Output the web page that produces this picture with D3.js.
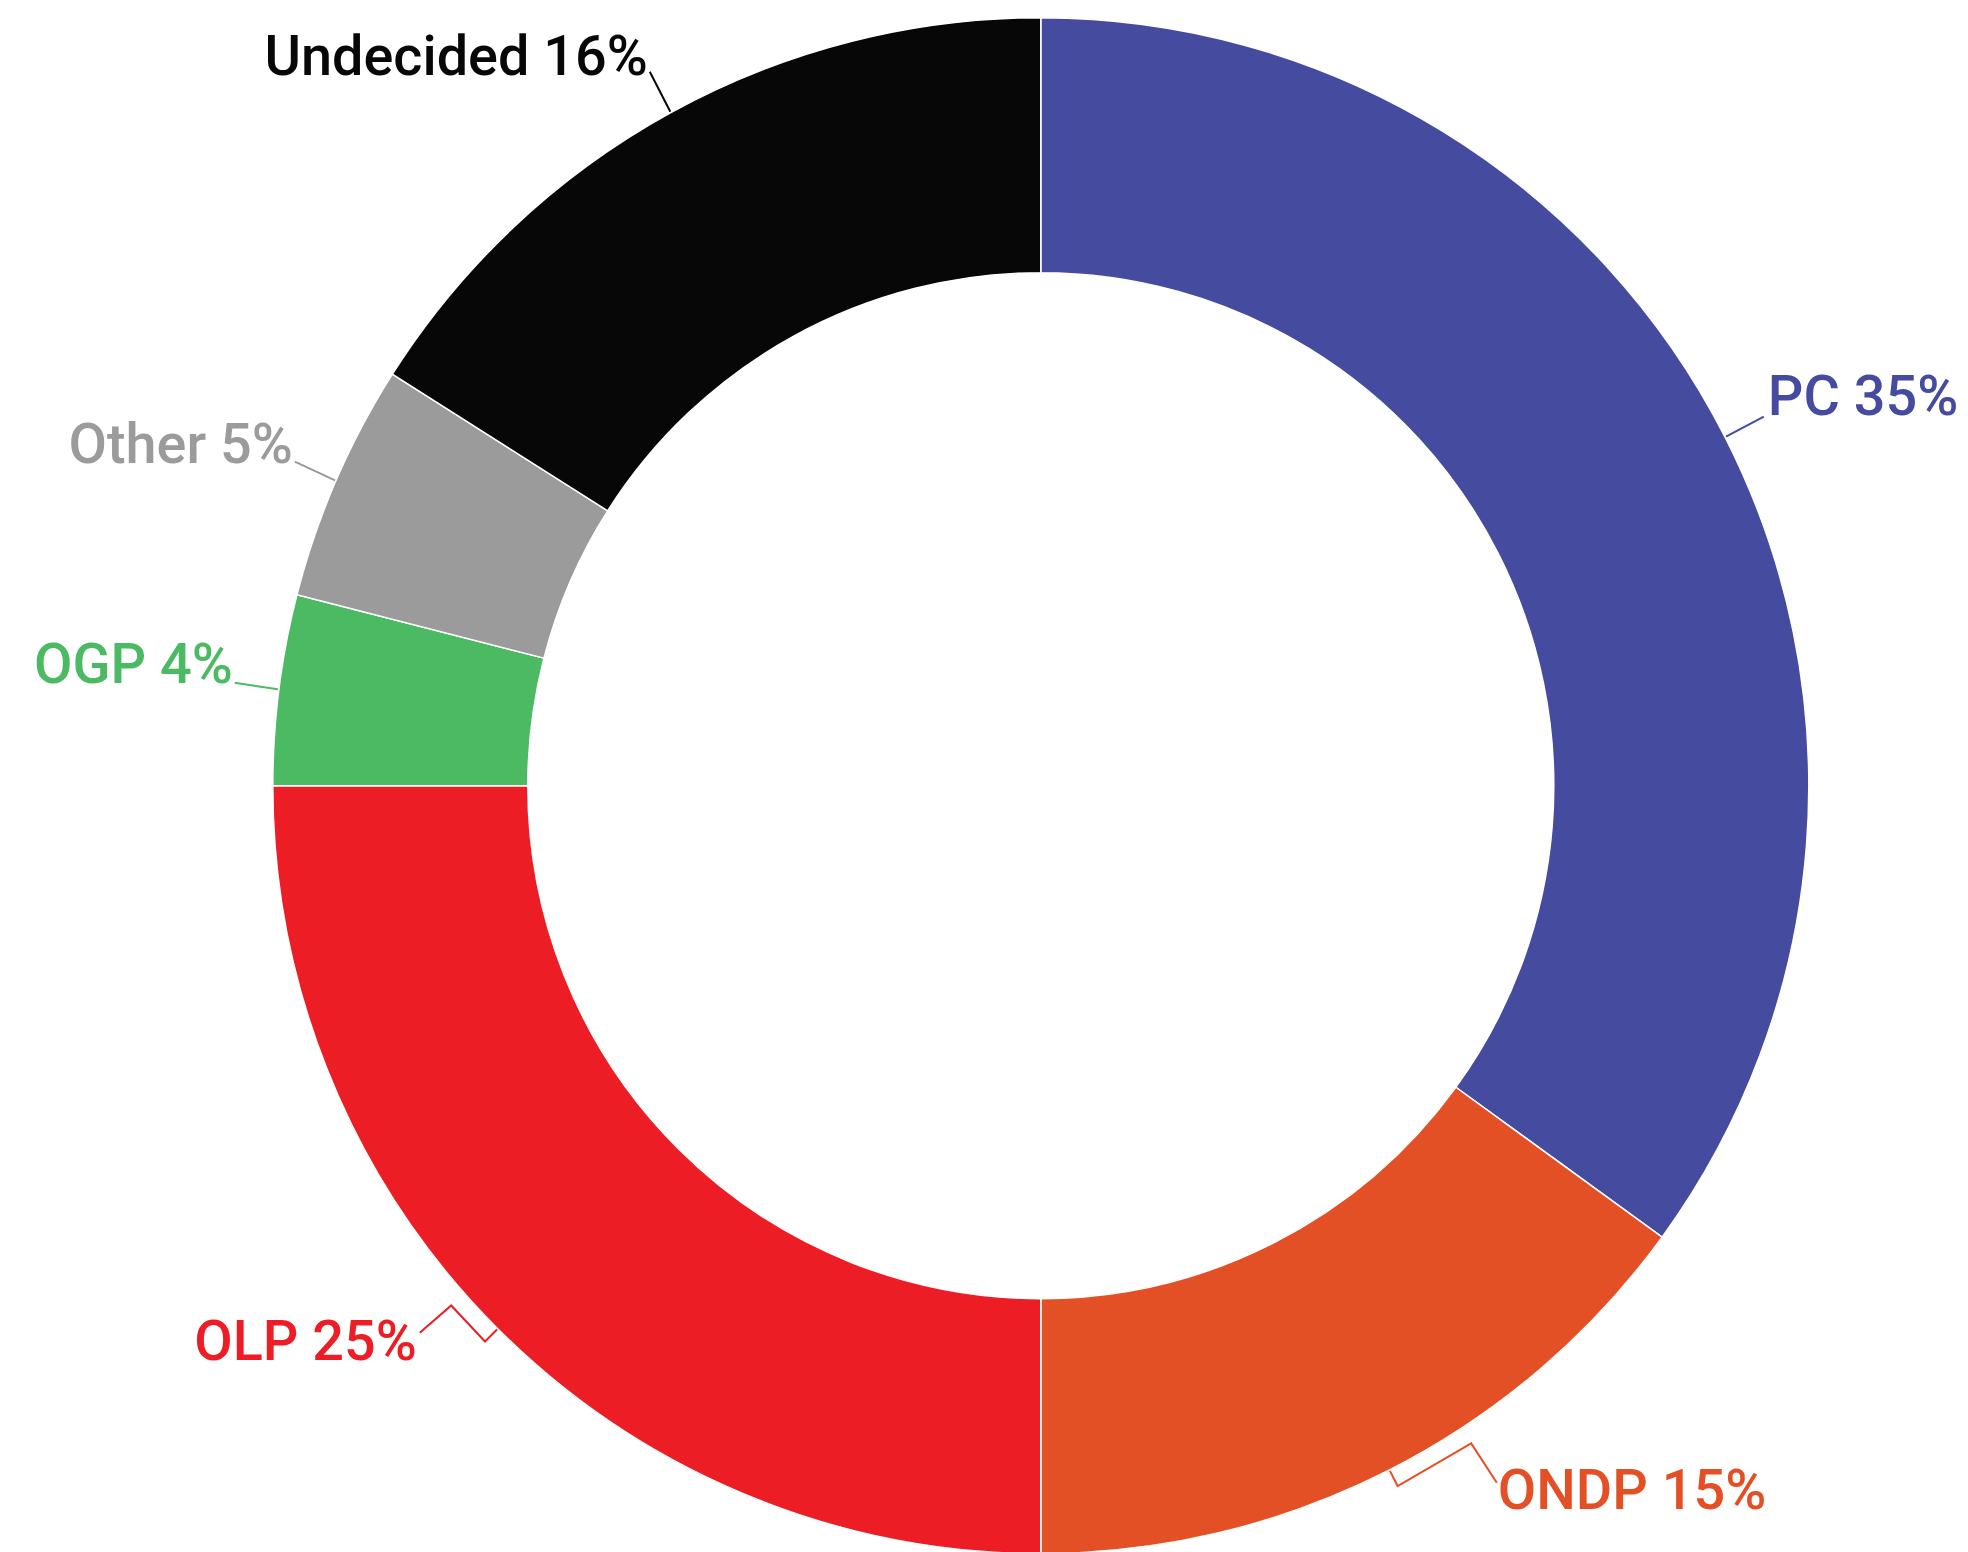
<!DOCTYPE html>
<html>
<head>
<meta charset="utf-8">
<script src="https://cdn.jsdelivr.net/npm/d3@7"></script>
<style>
  body { margin: 0; background: #fff; }
  text { font-family: Roboto, "Noto Sans", sans-serif; font-weight: 500; }
</style>
</head>
<body>
<div id="donut"></div>
<script>
// data
const parties = ["PC", "ONDP", "OLP", "OGP", "Other", "Undecided"];
const shares = [35, 15, 25, 4, 5, 16];
const colors = ["#454b9f", "#e45025", "#ed1d25", "#4cb963", "#9b9b9b", "#070707"];

const width = 1968, height = 1552;
const cx = 1040.8, cy = 785.7;
const outerR = 768, innerR = 513;

// label placement, relative to the centre (text anchor point)
const labelPos = {
  PC:        { x: 727,  y: -371, anchor: "start" },
  ONDP:      { x: 457,  y: 723,  anchor: "start" },
  OLP:       { x: -624, y: 574,  anchor: "end" },
  OGP:       { x: -808, y: -103, anchor: "end" },
  Other:     { x: -748, y: -323, anchor: "end" },
  Undecided: { x: -393, y: -711, anchor: "end" }
};
// leader line: bends given as [angle offset in deg, radius], then end point relative to label anchor
const leaders = {
  PC:        { bends: [], end: [-4, 2] },
  ONDP:      { bends: [[0, 786], [-6.2, 786]], end: [-1, -26] },
  OLP:       { bends: [[0, 786], [3.6, 786]], end: [3, -27] },
  OGP:       { bends: [], end: [2, 0] },
  Other:     { bends: [], end: [2, -1] },
  Undecided: { bends: [], end: [2, -3] }
};

const data = parties.map((p, i) => ({ party: p, value: shares[i], color: colors[i] }));

const svg = d3.select("#donut").append("svg")
  .attr("width", width)
  .attr("height", height);

const g = svg.append("g").attr("transform", `translate(${cx},${cy})`);

const pie = d3.pie().sort(null).value(d => d.value);
const arc = d3.arc().innerRadius(innerR).outerRadius(outerR);
const arcs = pie(data);

g.selectAll("path.slice")
  .data(arcs)
  .join("path")
  .attr("class", "slice")
  .attr("d", arc)
  .attr("fill", d => d.data.color)
  .attr("stroke", "#fff")
  .attr("stroke-width", 1.5);

const polar = (a, r) => [r * Math.sin(a), -r * Math.cos(a)];

g.selectAll("polyline.leader")
  .data(arcs)
  .join("polyline")
  .attr("class", "leader")
  .attr("fill", "none")
  .attr("stroke", d => d.data.color)
  .attr("stroke-width", 2)
  .attr("points", d => {
    const mid = (d.startAngle + d.endAngle) / 2;
    const L = leaders[d.data.party], P = labelPos[d.data.party];
    const pts = [polar(mid, outerR + 1)];
    L.bends.forEach(b => pts.push(polar(mid + b[0] * Math.PI / 180, b[1])));
    pts.push([P.x + L.end[0], P.y + L.end[1]]);
    return pts.map(p => p.join(",")).join(" ");
  });

g.selectAll("text.label")
  .data(arcs)
  .join("text")
  .attr("class", "label")
  .attr("x", d => labelPos[d.data.party].x)
  .attr("y", d => labelPos[d.data.party].y)
  .attr("text-anchor", d => labelPos[d.data.party].anchor)
  .attr("font-size", 55.8)
  .attr("fill", d => d.data.color)
  .text(d => `${d.data.party} ${d.data.value}%`);
</script>
</body>
</html>
